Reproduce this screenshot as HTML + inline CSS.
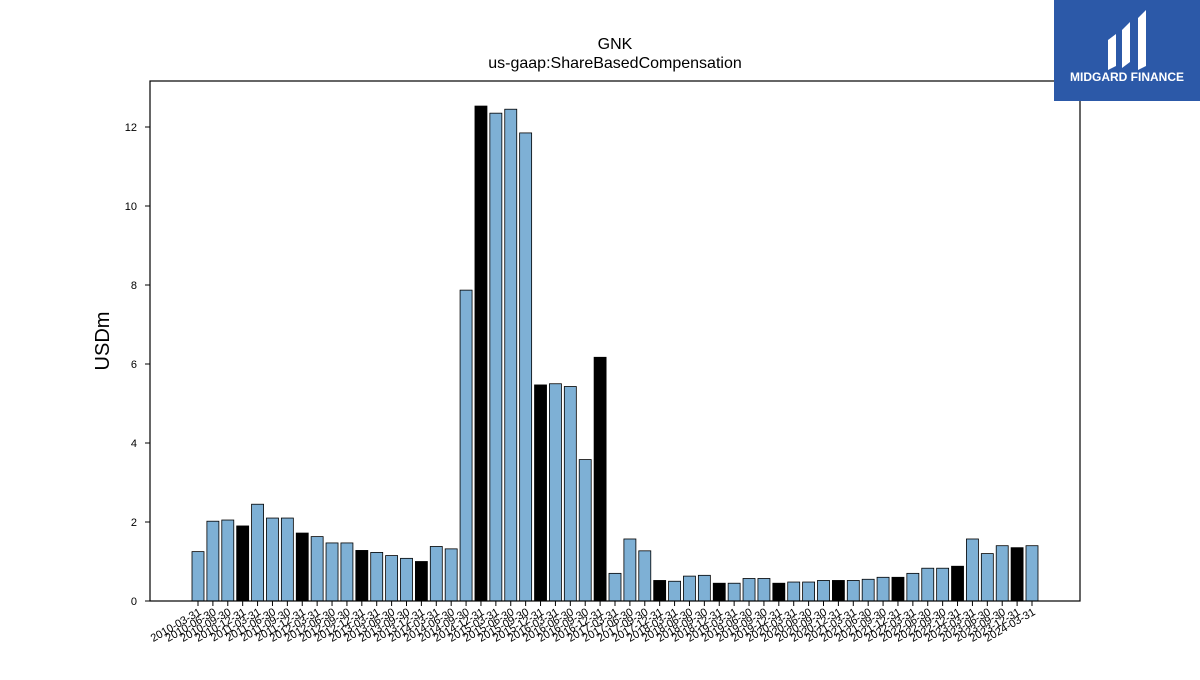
<!DOCTYPE html>
<html><head><meta charset="utf-8"><style>
body{margin:0;background:#fff;width:1200px;height:675px;overflow:hidden;font-family:"Liberation Sans",sans-serif}
</style></head><body>
<svg id="chart" width="1200" height="675" xmlns="http://www.w3.org/2000/svg" font-family="Liberation Sans, sans-serif">
<text x="615" y="49" text-anchor="middle" font-size="16">GNK</text>
<text x="615" y="68" text-anchor="middle" font-size="16">us-gaap:ShareBasedCompensation</text>
<text transform="translate(109,341) rotate(-90)" text-anchor="middle" font-size="20">USDm</text>
<g id="bars"></g><g id="yticks"></g><g id="xticks"></g>
<rect x="150" y="81" width="930" height="520" fill="none" stroke="#000" stroke-width="1.2"/>
<g>
<rect x="1054" y="0" width="146" height="101" fill="#2c59a8"/>
<path d="M1108 40 L1116 34 L1116 66 L1108 70 Z M1122 30 L1130 22 L1130 62 L1122 68 Z M1138 18 L1146 10 L1146 66 L1138 70 Z" fill="#fff"/>
<text x="1127" y="81" text-anchor="middle" font-size="12" font-weight="bold" fill="#fff">MIDGARD FINANCE</text>
</g>
</svg>
<script>
const categories=[];
for(let y=2010;y<=2024;y++){for(const q of ["03-31","06-30","09-30","12-31"]){if(y===2024&&q!=="03-31")break;categories.push(y+"-"+q);}}
const values=[1.25,2.02,2.05,1.9,2.45,2.1,2.1,1.72,1.63,1.47,1.47,1.28,1.23,1.15,1.08,1.0,1.38,1.32,7.87,12.53,12.35,12.45,11.85,5.47,5.5,5.43,3.58,6.17,0.7,1.57,1.27,0.52,0.5,0.63,0.65,0.45,0.45,0.57,0.57,0.45,0.48,0.48,0.52,0.52,0.52,0.55,0.6,0.6,0.7,0.83,0.83,0.88,1.57,1.2,1.4,1.35,1.4];
const yTickValues=[0,2,4,6,8,10,12];
const NS="http://www.w3.org/2000/svg";
const x0=198,step=(1032-198)/56,bw=12;
const xs=i=>x0+i*step;
const ys=v=>601-v*39.5;
const bars=document.getElementById('bars'),yt=document.getElementById('yticks'),xt=document.getElementById('xticks');
values.forEach((v,i)=>{
 const r=document.createElementNS(NS,'rect');
 
 
 r.setAttribute('x',xs(i)-bw/2);r.setAttribute('y',ys(v));r.setAttribute('width',bw);r.setAttribute('height',601-ys(v));
 r.setAttribute('fill',categories[i].endsWith('12-31')?'#000':'#7eb0d5');r.setAttribute('stroke','#000');r.setAttribute('stroke-width','0.8');
 bars.appendChild(r);
});
yTickValues.forEach(v=>{
 const l=document.createElementNS(NS,'line');
 
 
 l.setAttribute('x1',145);l.setAttribute('x2',150);l.setAttribute('y1',ys(v));l.setAttribute('y2',ys(v));l.setAttribute('stroke','#000');
 yt.appendChild(l);
 const t=document.createElementNS(NS,'text');
 
 
 t.setAttribute('x',137);t.setAttribute('y',ys(v)+4);t.setAttribute('text-anchor','end');t.setAttribute('font-size','11');
 t.textContent=v;yt.appendChild(t);
});
categories.forEach((c,i)=>{
 const l=document.createElementNS(NS,'line');
 
 
 l.setAttribute('x1',xs(i));l.setAttribute('x2',xs(i));l.setAttribute('y1',601);l.setAttribute('y2',606);l.setAttribute('stroke','#000');
 xt.appendChild(l);
 const t=document.createElementNS(NS,'text');
 
 
 t.setAttribute('text-anchor','end');t.setAttribute('font-size','11');
 t.setAttribute('transform','translate('+(xs(i)+4)+',614) rotate(-30)');
 t.textContent=c;xt.appendChild(t);
});
</script>
</body></html>
